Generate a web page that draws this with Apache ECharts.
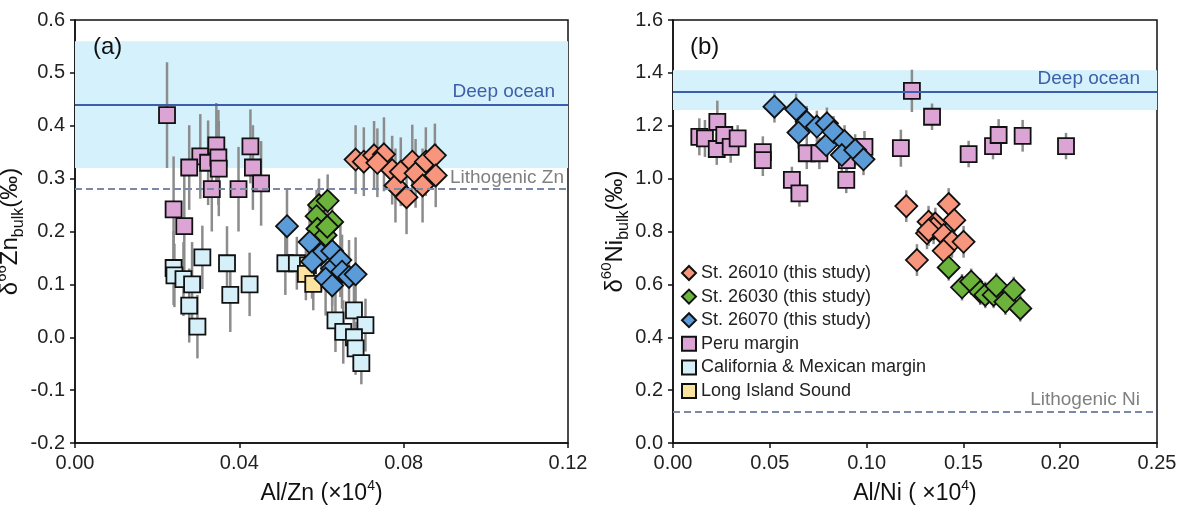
<!DOCTYPE html>
<html>
<head>
<meta charset="utf-8">
<script src="https://cdn.jsdelivr.net/npm/echarts@6/dist/echarts.min.js"></script>
<style>
  html, body { margin: 0; padding: 0; background: #fff; }
  #main { width: 1179px; height: 513px; }
</style>
</head>
<body>
<div id="main"></div>
<script>
// 每个点: [x, y, 误差]
// (a) Zn
var znOrange = [[0.0683,0.336,0.065],[0.0703,0.332,0.065],[0.0728,0.344,0.065],[0.0752,0.346,0.07],[0.0736,0.33,0.065],[0.0772,0.316,0.065],[0.078,0.287,0.07],[0.0807,0.265,0.07],[0.0793,0.313,0.065],[0.0821,0.332,0.07],[0.0829,0.31,0.065],[0.0846,0.287,0.07],[0.0854,0.332,0.065],[0.0876,0.344,0.06],[0.0878,0.306,0.06]];
var znGreen = [[0.0594,0.25,0.05],[0.0615,0.258,0.05],[0.0588,0.229,0.05],[0.0626,0.218,0.05],[0.059,0.205,0.05],[0.061,0.193,0.05],[0.0614,0.209,0.05]];
var znBlue = [[0.0516,0.21,0.07],[0.0571,0.18,0.07],[0.0599,0.157,0.07],[0.0577,0.143,0.07],[0.0626,0.163,0.07],[0.0626,0.13,0.07],[0.061,0.111,0.07],[0.0646,0.146,0.07],[0.065,0.124,0.07],[0.0667,0.114,0.07],[0.0683,0.119,0.07],[0.0626,0.098,0.07]];
var znPeru = [[0.0224,0.42,0.1],[0.0305,0.342,0.08],[0.0278,0.321,0.08],[0.0324,0.33,0.08],[0.0344,0.363,0.08],[0.0349,0.34,0.09],[0.035,0.319,0.09],[0.0333,0.28,0.08],[0.0398,0.28,0.08],[0.0427,0.361,0.07],[0.0433,0.321,0.08],[0.0453,0.291,0.08],[0.024,0.242,0.1],[0.0266,0.21,0.1]];
var znCal = [[0.024,0.131,0.07],[0.0242,0.117,0.06],[0.0264,0.11,0.07],[0.0285,0.10,0.08],[0.031,0.151,0.06],[0.0278,0.06,0.07],[0.0298,0.02,0.06],[0.037,0.14,0.07],[0.0378,0.08,0.07],[0.0425,0.10,0.06],[0.0512,0.14,0.06],[0.054,0.14,0.05],[0.0634,0.032,0.06],[0.0679,0.051,0.06],[0.0653,0.01,0.06],[0.0707,0.023,0.05],[0.0679,0.0,0.06],[0.0683,-0.021,0.05],[0.0697,-0.049,0.04]];
var znLis = [[0.0567,0.136,0.05],[0.0562,0.12,0.05],[0.058,0.101,0.05]];

// (b) Ni
var niOrange = [[0.1205,0.896,0.06],[0.1424,0.904,0.06],[0.1453,0.843,0.06],[0.132,0.837,0.06],[0.1355,0.83,0.06],[0.1346,0.812,0.06],[0.1312,0.793,0.06],[0.132,0.805,0.06],[0.1398,0.787,0.06],[0.1441,0.761,0.06],[0.1501,0.761,0.06],[0.1398,0.727,0.06],[0.126,0.692,0.06]];
var niGreen = [[0.1424,0.664,0.05],[0.1493,0.589,0.05],[0.154,0.61,0.05],[0.1587,0.572,0.05],[0.1613,0.56,0.05],[0.1656,0.56,0.05],[0.167,0.594,0.05],[0.1717,0.534,0.05],[0.176,0.579,0.05],[0.1794,0.509,0.05]];
var niBlue = [[0.0524,1.272,0.06],[0.0636,1.262,0.06],[0.0691,1.215,0.06],[0.0648,1.174,0.06],[0.0743,1.197,0.06],[0.0795,1.209,0.06],[0.0791,1.127,0.06],[0.0829,1.177,0.06],[0.0886,1.142,0.06],[0.0872,1.089,0.06],[0.0941,1.108,0.06],[0.0984,1.073,0.06]];
var niPeru = [[0.0136,1.158,0.07],[0.0165,1.152,0.07],[0.0229,1.215,0.08],[0.0226,1.112,0.06],[0.0265,1.165,0.06],[0.0298,1.12,0.06],[0.0334,1.152,0.05],[0.0464,1.10,0.06],[0.0464,1.07,0.06],[0.0614,0.995,0.05],[0.0653,0.944,0.05],[0.0691,1.096,0.06],[0.0756,1.096,0.06],[0.0898,1.07,0.06],[0.0895,0.995,0.05],[0.0989,1.12,0.06],[0.1177,1.115,0.07],[0.1234,1.332,0.08],[0.1338,1.234,0.05],[0.1527,1.093,0.05],[0.1653,1.123,0.05],[0.1682,1.165,0.06],[0.1806,1.162,0.06],[0.203,1.123,0.05]];

// 参考值
var znDeepBand = [0.32, 0.56], znDeepLine = 0.44, znLitho = 0.28;
var niDeepBand = [1.26, 1.41], niDeepLine = 1.33, niLitho = 0.12;

var legendNames = ['St. 26010 (this study)', 'St. 26030 (this study)', 'St. 26070 (this study)', 'Peru margin', 'California & Mexican margin', 'Long Island Sound'];
var colors = ['#f7967c', '#6cb33c', '#5b9bd8', '#dca3d5', '#d6f0fa', '#fbe3a0'];

var FONT = 'Liberation Sans, Arial, sans-serif';
var myChart = echarts.init(document.getElementById('main'));

function errorSeries(idx, data, band, line, litho, lithoText, deepDist, lithoDist) {
    return {
        type: 'custom',
        name: 'err' + idx,
        xAxisIndex: idx, yAxisIndex: idx,
        z: 1,
        data: data,
        encode: { x: 0, y: 1 },
        renderItem: function(params, api) {
            var x = api.value(0), y = api.value(1), e = api.value(2);
            var p1 = api.coord([x, y + e]);
            var p2 = api.coord([x, y - e]);
            return {
                type: 'line',
                shape: { x1: p1[0], y1: p1[1], x2: p2[0], y2: p2[1] },
                style: { stroke: '#8c8c8c', lineWidth: 2.5 }
            };
        },
        markArea: {
            silent: true,
            itemStyle: { color: '#d5f1fb' },
            data: [[{ yAxis: band[0] }, { yAxis: band[1] }]]
        },
        markLine: {
            silent: true,
            symbol: 'none',
            animation: false,
            data: [
                { yAxis: line, lineStyle: { color: '#3b5fab', width: 1.8, type: 'solid' },
                  label: { formatter: 'Deep ocean', color: '#3d5fa8', distance: [deepDist, 3] } },
                { yAxis: litho, lineStyle: { color: '#7a8aa6', width: 2.2, type: [7, 4] },
                  label: { formatter: lithoText, color: '#808080', distance: [lithoDist, 2] } }
            ],
            label: { position: 'insideEndTop', fontSize: 19, fontFamily: FONT }
        }
    };
}

function scatter(idx, name, data, color, symbol, size) {
    return {
        type: 'scatter',
        name: name,
        xAxisIndex: idx, yAxisIndex: idx,
        z: symbol === 'rect' ? 2 : 3,
        symbol: symbol,
        symbolSize: size,
        data: data,
        itemStyle: { color: color, borderColor: '#111', borderWidth: 1.8, opacity: 1 }
    };
}

function yName(sup, el) {
    return '{d|δ}{sup|' + sup + '}{m|' + el + '}{sub|bulk}{m|(‰)}';
}
var nameRich = {
    d: { fontSize: 24, fontFamily: FONT, color: '#111', lineHeight: 32 },
    m: { fontSize: 24, fontFamily: FONT, color: '#111', lineHeight: 32 },
    sup: { fontSize: 15, fontFamily: FONT, color: '#111', verticalAlign: 'top', lineHeight: 15 },
    sub: { fontSize: 16, fontFamily: FONT, color: '#111', verticalAlign: 'bottom', lineHeight: 16 }
};
var xRich = {
    m: { fontSize: 23, fontFamily: FONT, color: '#111', lineHeight: 30 },
    sup: { fontSize: 14, fontFamily: FONT, color: '#111', verticalAlign: 'top', lineHeight: 14 }
};

var axisCommon = {
    axisLine: { show: true, onZero: false, lineStyle: { color: '#111', width: 1.5 } },
    axisTick: { show: true, inside: false, length: 5, lineStyle: { color: '#111', width: 1.5 } },
    splitLine: { show: false },
    axisLabel: { fontSize: 20, fontFamily: FONT, color: '#222', margin: 10 }
};

function xAxis(idx, max, interval, name) {
    return echarts.util.merge({
        type: 'value', gridIndex: idx, min: 0, max: max, interval: interval,
        name: name, nameLocation: 'middle', nameGap: 36,
        nameTextStyle: { rich: xRich },
        axisLabel: { formatter: function(v) { return v.toFixed(2); } }
    }, axisCommon);
}
function yAxis(idx, min, max, interval, name) {
    return echarts.util.merge({
        type: 'value', gridIndex: idx, min: min, max: max, interval: interval,
        name: name, nameLocation: 'middle', nameGap: 38, nameRotate: 90,
        nameTextStyle: { rich: nameRich },
        axisLabel: { formatter: function(v) { return v.toFixed(1); } }
    }, axisCommon);
}

var option = {
    animation: false,
    backgroundColor: '#fff',
    title: [
        { text: '(a)', left: 88, top: 30, textStyle: { fontSize: 24, fontWeight: 'normal', fontFamily: FONT, color: '#111' } },
        { text: '(b)', left: 685, top: 30, textStyle: { fontSize: 24, fontWeight: 'normal', fontFamily: FONT, color: '#111' } }
    ],
    grid: [
        { left: 75, right: 611, top: 20, bottom: 70, outerBoundsMode: 'none', containLabel: false,
          show: true, borderColor: '#111', borderWidth: 1.5, backgroundColor: 'transparent' },
        { left: 673, right: 22, top: 20, bottom: 70, outerBoundsMode: 'none', containLabel: false,
          show: true, borderColor: '#111', borderWidth: 1.5, backgroundColor: 'transparent' }
    ],
    xAxis: [
        xAxis(0, 0.12, 0.04, '{m|Al/Zn (×10}{sup|4}{m|)}'),
        xAxis(1, 0.25, 0.05, '{m|Al/Ni ( ×10}{sup|4}{m|)}')
    ],
    yAxis: [
        yAxis(0, -0.2, 0.6, 0.1, yName('66', 'Zn')),
        yAxis(1, 0, 1.6, 0.2, yName('60', 'Ni'))
    ],
    legend: {
        data: legendNames,
        orient: 'vertical',
        left: 681, top: 264,
        itemWidth: 14, itemHeight: 14, itemGap: 5.6,
        padding: 0,
        selectedMode: false,
        textStyle: { fontSize: 18, fontFamily: FONT, color: '#222' }
    },
    series: [
        errorSeries(0, znPeru.concat(znCal, znLis, znOrange, znGreen, znBlue), znDeepBand, znDeepLine, znLitho, 'Lithogenic Zn', 13, 4),
        errorSeries(1, niPeru.concat(niOrange, niGreen, niBlue), niDeepBand, niDeepLine, niLitho, 'Lithogenic Ni', 17, 17),
        scatter(0, legendNames[0], znOrange, colors[0], 'diamond', 22),
        scatter(0, legendNames[1], znGreen, colors[1], 'diamond', 22),
        scatter(0, legendNames[2], znBlue, colors[2], 'diamond', 22),
        scatter(0, legendNames[3], znPeru, colors[3], 'rect', 16),
        scatter(0, legendNames[4], znCal, colors[4], 'rect', 16),
        scatter(0, legendNames[5], znLis, colors[5], 'rect', 16),
        scatter(1, legendNames[3], niPeru, colors[3], 'rect', 16),
        scatter(1, legendNames[0], niOrange, colors[0], 'diamond', 22),
        scatter(1, legendNames[1], niGreen, colors[1], 'diamond', 22),
        scatter(1, legendNames[2], niBlue, colors[2], 'diamond', 22)
    ]
};

myChart.setOption(option);
</script>
</body>
</html>
